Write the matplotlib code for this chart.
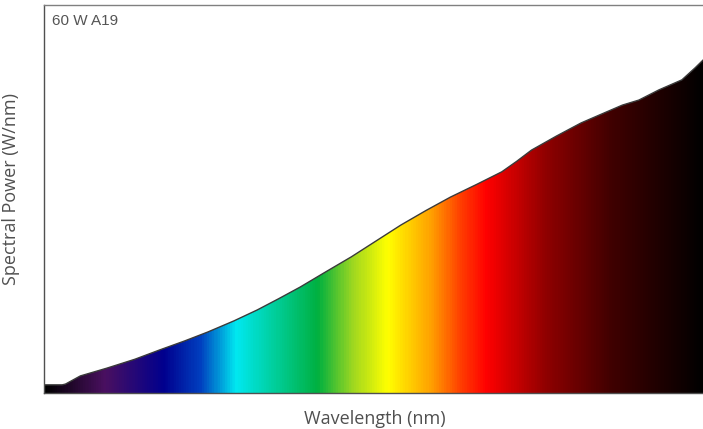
import numpy as np
import matplotlib
matplotlib.use("Agg")
import matplotlib.pyplot as plt
from matplotlib.colors import LinearSegmentedColormap
from matplotlib.patches import Polygon

# 光谱数据 (波长 nm, 相对功率)
wavelength = [380, 391, 393, 402, 418, 435, 450, 465, 479, 495, 509, 522,
              535, 550, 566, 581, 596, 611, 626, 642, 657, 666, 675, 690,
              705, 718, 730, 740, 752, 766, 774, 780]
power = [0.021, 0.021, 0.023, 0.044, 0.064, 0.087, 0.111, 0.134, 0.157,
         0.186, 0.214, 0.243, 0.273, 0.311, 0.351, 0.392, 0.433, 0.470,
         0.505, 0.538, 0.570, 0.597, 0.626, 0.662, 0.696, 0.720, 0.742,
         0.755, 0.781, 0.807, 0.838, 0.863]

# 渐变色停靠点 (位置, 颜色)
stop_pos = [0.0, 0.09, 0.18, 0.236, 0.29, 0.345, 0.414, 0.468, 0.52,
            0.586, 0.63, 0.67, 0.76, 0.86, 1.0]
stop_col = ['#000000', '#4a1060', '#00008e', '#0040c0', '#00e8f0',
            '#00d0a0', '#00b040', '#a0d820', '#ffff00', '#ffa000',
            '#ff4000', '#ff0000', '#900000', '#400000', '#000000']

title = "60 W A19"

fig = plt.figure(figsize=(7.03, 4.29), dpi=100)
ax = fig.add_axes([44/703, 36/429, 661/703, 388/429])

cmap = LinearSegmentedColormap.from_list("spec", list(zip(stop_pos, stop_col)))
grad = np.linspace(0, 1, 800).reshape(1, -1)
im = ax.imshow(grad, cmap=cmap, aspect='auto',
               extent=[wavelength[0], wavelength[-1], 0, 1], origin='lower')

verts = [(wavelength[0], 0)] + list(zip(wavelength, power)) + [(wavelength[-1], 0)]
poly = Polygon(verts, closed=True, facecolor='none', edgecolor='none')
ax.add_patch(poly)
im.set_clip_path(poly)
ax.plot(wavelength, power, color='#3a3a3a', linewidth=1.0)

ax.set_xlim(wavelength[0], wavelength[-1])
ax.set_ylim(0, 1)
ax.set_xticks([])
ax.set_yticks([])
ax.spines['right'].set_visible(False)
ax.spines['top'].set_color('#808080')
ax.spines['left'].set_color('#505050')
ax.spines['bottom'].set_color('#505050')
for s in ['top', 'left', 'bottom']:
    ax.spines[s].set_linewidth(1.0)

ax.text(0.012, 0.978, title, transform=ax.transAxes, ha='left', va='top',
        fontsize=11, color='#555555', family='Liberation Sans')
ax.set_ylabel('Spectral Power (W/nm)', fontsize=13, color='#505050',
              family='Open Sans')
ax.yaxis.set_label_coords(-0.036, 0.525)
ax.set_xlabel('Wavelength (nm)', fontsize=13, color='#505050',
              family='Open Sans', labelpad=12.5)

fig.savefig('out.png', dpi=100)
